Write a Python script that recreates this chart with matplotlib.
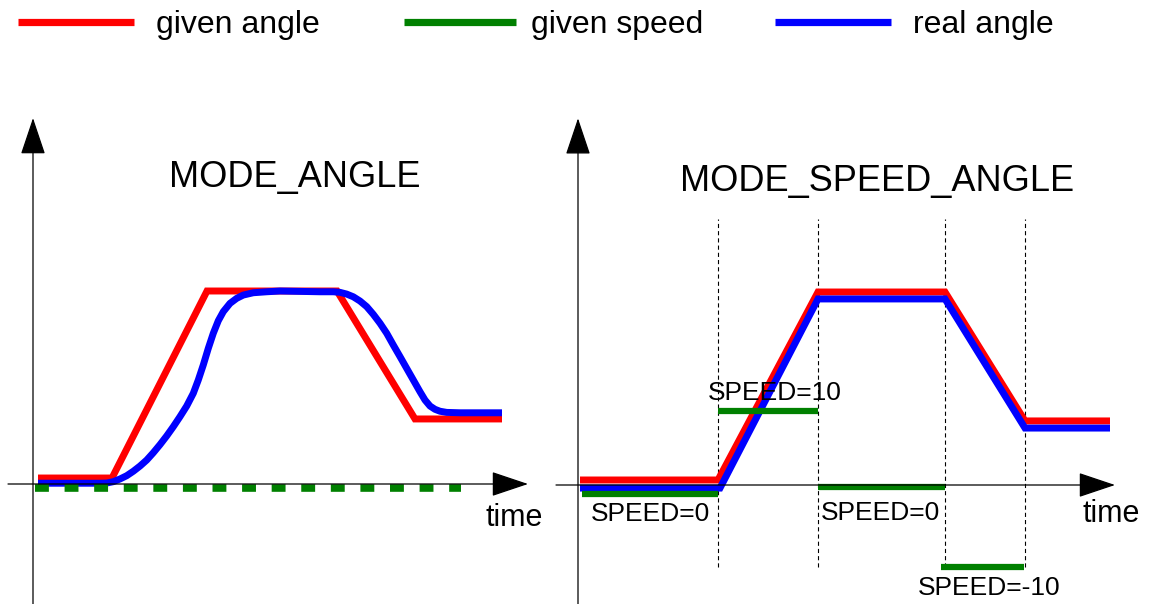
import matplotlib
matplotlib.use('Agg')
import matplotlib.pyplot as plt
from matplotlib.lines import Line2D

plt.rcParams['font.family'] = ['Liberation Sans', 'DejaVu Sans']
plt.rcParams['lines.scale_dashes'] = False

# legend
legend_labels = ['given angle', 'given speed', 'real angle']
legend_colors = ['red', 'green', 'blue']

# MODE_ANGLE panel (time units, angle units)
left_given_t = [0.5, 7.9, 17.4, 30.4, 38.2, 46.9]
left_given_a = [0.31, 0.31, 10.0, 10.0, 3.37, 3.37]
left_real_t = [0.5, 6.7, 7.37, 8.03, 8.7, 9.37, 10.03, 10.7, 11.37, 12.03,
               12.7, 13.37, 14.03, 14.7, 15.37, 16.03, 16.53, 17.03, 17.53,
               18.03, 18.53, 19.03, 19.7, 20.37, 21.03, 22.03, 23.37, 24.7,
               28.7, 30.03, 30.7, 31.37, 32.03, 32.7, 33.37, 34.03, 34.7,
               35.37, 36.03, 36.7, 37.37, 38.03, 38.7, 39.2, 39.7, 40.2,
               40.7, 41.37, 42.7, 46.9]
left_real_a = [0.04, 0.04, 0.05, 0.12, 0.26, 0.43, 0.66, 0.93, 1.24, 1.62,
               2.04, 2.49, 2.97, 3.49, 4.04, 4.70, 5.39, 6.17, 7.03, 7.81,
               8.46, 8.93, 9.36, 9.62, 9.79, 9.91, 9.96, 10.0,
               9.96, 9.96, 9.93, 9.84, 9.70, 9.48, 9.19, 8.79, 8.33, 7.81,
               7.20, 6.60, 5.99, 5.39, 4.78, 4.35, 4.04, 3.87, 3.77, 3.71,
               3.69, 3.69]
left_speed_t = [0.2, 42.8]
left_speed_a = [-0.21, -0.21]

# MODE_SPEED_ANGLE panel
right_given_t = [0.2, 14.0, 24.0, 36.7, 44.7, 53.2]
right_given_a = [0.26, 0.26, 10.0, 10.0, 3.32, 3.32]
right_real_t = [0.2, 14.2, 24.0, 36.7, 44.7, 53.2]
right_real_a = [-0.16, -0.16, 9.64, 9.64, 2.95, 2.95]
speed_start = [0.4, 14.0, 24.0, 36.3]
speed_end = [14.0, 24.0, 36.7, 44.6]
speed_level = [-0.47, 3.83, -0.1, -4.25]
speed_value = [0, 10, 0, -10]
switch_t = [14.0, 24.0, 36.7, 44.7]

W, H = 1150, 604
SX, SY = 10.0, 19.3  # pixels per time unit / per angle unit

fig = plt.figure(figsize=(W / 100, H / 100), dpi=100)


def panel(ox, oy):
    ax = fig.add_axes([0, 0, 1, 1])
    ax.set_xlim(-ox / SX, (W - ox) / SX)
    ax.set_ylim((oy - H) / SY, oy / SY)
    ax.axis('off')
    return ax


def draw_axes(ax, t0, t1, a_top):
    props = dict(arrowstyle='-|>,head_length=23.5,head_width=7.9',
                 mutation_scale=1, color='black', lw=0.9,
                 shrinkA=0, shrinkB=0)
    ax.annotate('', xy=(t1, 0), xytext=(t0, 0), arrowprops=props)
    ax.annotate('', xy=(0, a_top), xytext=(0, ax.get_ylim()[0] - 1),
                arrowprops=props)


lw = 5.0

# left panel
ax1 = panel(33, 484)
draw_axes(ax1, -2.5, 49.5, 18.96)
ax1.plot(left_given_t, left_given_a, color='red', lw=lw,
         solid_joinstyle='miter', solid_capstyle='butt')
ax1.plot(left_real_t, left_real_a, color='blue', lw=lw,
         solid_joinstyle='round', solid_capstyle='butt')
ax1.plot(left_speed_t, left_speed_a, color='green', lw=5.5,
         dashes=(10, 11.3), dash_capstyle='butt')
ax1.text(26.2, 15.9, 'MODE_ANGLE', ha='center', va='center', fontsize=26)
ax1.text(48.1, -1.76, 'time', ha='center', va='center', fontsize=22)

# right panel
ax2 = panel(578, 485)
draw_axes(ax2, -2.2, 53.7, 19.0)
ax2.vlines(switch_t, min(speed_level), 13.8, colors='black', lw=0.8,
           linestyles=(0, (3, 2.2)))
ax2.plot(right_given_t, right_given_a, color='red', lw=lw,
         solid_joinstyle='miter', solid_capstyle='butt')
ax2.plot(right_real_t, right_real_a, color='blue', lw=lw,
         solid_joinstyle='miter', solid_capstyle='butt')
ax2.hlines(speed_level, speed_start, speed_end, colors='green', lw=4.5)

label_offsets = [(0, -14), (5, 13), (-1, -19), (5, -15)]
for s0, s1, lev, val, off in zip(speed_start, speed_end, speed_level,
                                 speed_value, label_offsets):
    ax2.annotate('SPEED=%d' % val, xy=((s0 + s1) / 2, lev), xytext=off,
                 textcoords='offset points', ha='center', va='center',
                 fontsize=19)
ax2.text(29.9, 15.7, 'MODE_SPEED_ANGLE', ha='center', va='center',
         fontsize=26)
ax2.text(53.3, -1.5, 'time', ha='center', va='center', fontsize=22)

# legend drawn across the top
legend_x = [18, 404, 775]
handle_w = [116, 112, 116]
text_pad = [22, 15, 22]
for x, hw, pad, lab, col in zip(legend_x, handle_w, text_pad,
                                legend_labels, legend_colors):
    y = 1 - 22 / H
    fig.add_artist(Line2D([x / W, (x + hw) / W], [y, y], color=col,
                          lw=5.2, solid_capstyle='butt'))
    fig.text((x + hw + pad) / W, 1 - 25 / H, lab, ha='left',
             va='center', fontsize=23)

fig.savefig('out.png', dpi=100)
